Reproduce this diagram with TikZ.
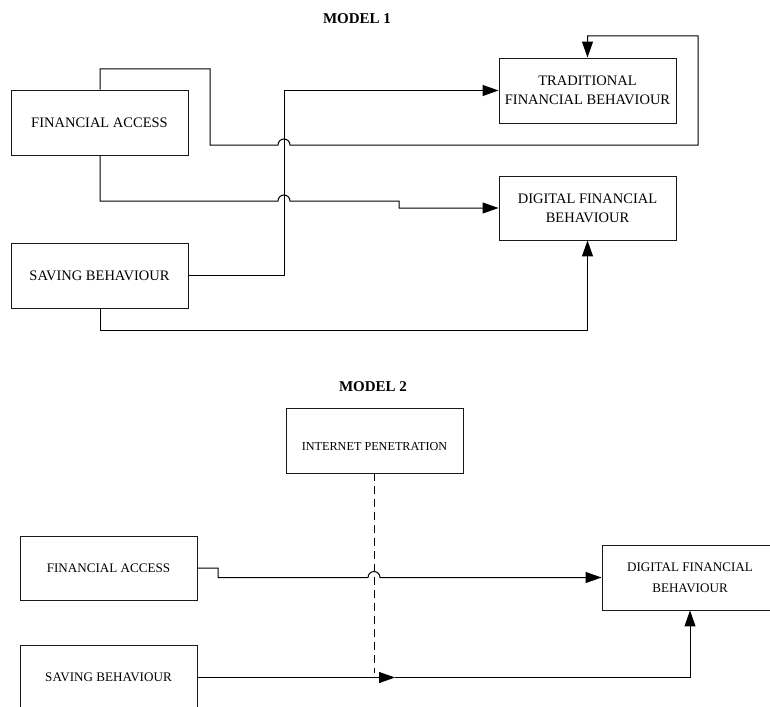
\documentclass[tikz,border=0pt]{standalone}
\usepackage{fontspec}
\setmainfont{Liberation Serif}
\usetikzlibrary{arrows.meta}
\begin{document}
\begin{tikzpicture}[x=1pt,y=-1pt,
  box/.style={draw=black!90, line width=0.95pt, minimum width=177pt, minimum height=65pt,
    inner sep=0pt, align=center},
  fontA/.style={font=\fontsize{14.5}{19}\selectfont},
  fontB/.style={font=\fontsize{13.1}{21}\selectfont},
  fontC/.style={font=\fontsize{12.2}{20}\selectfont},
  conn/.style={line width=1pt, black},
  arr/.style={conn, -{Triangle[length=16pt,width=11pt]}},
  ttl/.style={font=\fontsize{15}{17}\selectfont\bfseries}]
\useasboundingbox (0,0) rectangle (770,706);
\clip (0,0) rectangle (770,706);
\fill[white] (0,0) rectangle (770,706);

% ---------- MODEL 1 ----------
\node[ttl] (t1) at (357,19) {MODEL 1};
\node[box,fontA] (fa1) at (99.5,122.5) {FINANCIAL ACCESS};
\node[box,fontA] (sb1) at (99.5,275.5) {SAVING BEHAVIOUR};
\node[box,fontA] (tr1) at (587.5,90.5) {TRADITIONAL\\FINANCIAL BEHAVIOUR};
\node[box,fontA,minimum height=64pt] (df1) at (587.5,208) {DIGITAL FINANCIAL\\BEHAVIOUR};

\coordinate (v) at (284,0);
\coordinate (fa1top) at (100,69);
\coordinate (fa1r) at (210,69);
\coordinate (loopR) at (698,145);
\coordinate (loopT) at (698,36);

% FA -> Traditional (loop over the top)
\draw[arr] (fa1.north -| fa1top) -- (fa1top) -- (fa1r) -- (210,145) -- (278,145)
  arc[start angle=180,end angle=360,radius=6] -- (loopR) -- (loopT) -- (tr1.north |- loopT) -- (tr1.north);

% FA -> Digital
\draw[arr] (fa1.south -| fa1top) -- (100,201) -- (278,201)
  arc[start angle=180,end angle=360,radius=6] -- (399,201) -- (399,208) -- (df1.west);

% SB -> Traditional
\draw[arr] (sb1.east) -- (sb1.east -| v) -- (tr1.west -| v) -- (tr1.west);

% SB -> Digital
\draw[arr] (sb1.south -| fa1top) -- (100,330) -- (df1.south |- 0,330) -- (df1.south);

% ---------- MODEL 2 ----------
\node[ttl] (t2) at (373,387) {MODEL 2};
\node[box,fontC] (ip) at (374.5,440.5) {\mbox{}\\INTERNET PENETRATION};
\node[box,fontB,minimum height=64pt] (fa2) at (108.5,568) {FINANCIAL ACCESS};
\node[box,fontB] (sb2) at (108.5,677.5) {SAVING BEHAVIOUR};
\node[box,fontB,minimum width=176pt] (df2) at (690,577.5) {DIGITAL FINANCIAL\\BEHAVIOUR};

\coordinate (dashend) at (374,673);
\coordinate (mid) at (395,677.5);

% FA -> Digital (with hop over dashed line)
\draw[arr] (fa2.east) -- (218,568) -- (218,577.5) -- (368,577.5)
  arc[start angle=180,end angle=360,radius=6] -- (df2.west);

% Internet penetration moderating (dashed)
\draw[conn, dash pattern=on 8pt off 5pt] (ip.south -| dashend) -- (dashend);

% SB -> Digital
\draw[arr] (sb2.east) -- (mid);
\draw[arr] (mid) -- (df2.south |- mid) -- (df2.south);
\end{tikzpicture}
\end{document}
